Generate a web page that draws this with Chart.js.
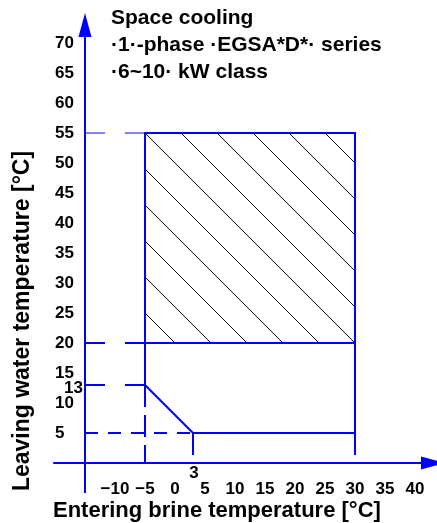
<!DOCTYPE html>
<html lang="en">
<head>
  <meta charset="UTF-8">
  <title>Space cooling - operation range</title>
  <script src="https://cdn.jsdelivr.net/npm/chart.js"></script>
  <style>
    body {
      margin: 0;
      background: #ffffff;
      overflow: hidden;
    }

    #wrap {
      width: 445px;
      height: 523px;
    }
  </style>
</head>
<body>

  <div id="wrap">
    <canvas id="rangeChart" width="445" height="523"></canvas>
  </div>

  <script>
    // operating envelope: entering brine temp (x) / leaving water temp (y)
    const envelopeX = [-5, -5, 30, 30, 3, -5];
    const envelopeY = [13, 55, 55, 5, 5, 13];

    // hatched band and the line that splits it from the lower part
    const bandX = [-5, 30];
    const bandTop = 55;
    const bandBottom = 20;

    // dashed guides to the axes
    const hGuideY = [55, 20, 13, 5];
    const hGuideEnd = [-5, -5, -5, 3];
    const vGuideX = [-5, 3, 30];
    const vGuideTop = [13, 5, 5];

    // tick labels
    const xTicks = [-10, -5, 0, 5, 10, 15, 20, 25, 30, 35, 40];
    const yTicks = [5, 10, 15, 20, 25, 30, 35, 40, 45, 50, 55, 60, 65, 70];
    const extraXLabels = [3];
    const extraYLabels = [13];

    const titleLines = ['Space cooling', '·1·-phase ·EGSA*D*· series', '·6~10· kW class'];
    const xTitle = 'Entering brine temperature [°C]';
    const yTitle = 'Leaving water temperature [°C]';

    const BLUE = '#0000ff';
    const FONT = "'Liberation Sans', Arial, sans-serif";

    // diagonal hatch tile
    const tile = document.createElement('canvas');
    tile.width = 36;
    tile.height = 36;
    const tctx = tile.getContext('2d');
    tctx.strokeStyle = '#111';
    tctx.lineWidth = 1;
    for (let k = -1; k <= 1; k++) {
      tctx.beginPath();
      tctx.moveTo(-2, k * 36 - 2);
      tctx.lineTo(38, 36 + k * 36 + 2);
      tctx.stroke();
    }
    const ctx = document.getElementById('rangeChart').getContext('2d');
    const hatch = ctx.createPattern(tile, 'repeat');

    const fmt = (v) => (v < 0 ? '\u2212' + Math.abs(v) : String(v));

    const datasets = [];

    datasets.push({
      data: envelopeX.map((x, i) => ({ x: x, y: envelopeY[i] })),
      borderColor: BLUE,
      borderWidth: 2,
      fill: false
    });

    datasets.push({
      data: bandX.map(x => ({ x: x, y: bandBottom })),
      borderColor: BLUE,
      borderWidth: 2,
      fill: false
    });

    hGuideY.forEach((y, i) => {
      datasets.push({
        data: [{ x: -15, y: y }, { x: hGuideEnd[i], y: y }],
        borderColor: i === 0 ? '#8080ff' : BLUE,
        borderWidth: 2,
        borderDash: y === 5 ? [13, 10] : [20, 20],
        fill: false
      });
    });

    vGuideX.forEach((x, i) => {
      datasets.push({
        data: [{ x: x, y: vGuideTop[i] }, { x: x, y: 0 }],
        borderColor: BLUE,
        borderWidth: 2,
        borderDash: [22, 8],
        fill: false
      });
    });

    // last in the list = drawn first, under the outlines
    datasets.push({
      data: bandX.map(x => ({ x: x, y: bandTop })),
      borderWidth: 0,
      backgroundColor: hatch,
      fill: { value: bandBottom }
    });

    const decorations = {
      id: 'decorations',
      beforeDatasetsDraw(chart) {
        const sx = chart.scales.x, sy = chart.scales.y;
        hatch.setTransform(new DOMMatrix([1, 0, 0, 1,
          sx.getPixelForValue(bandX[0]), sy.getPixelForValue(bandTop)]));
      },
      afterDatasetsDraw(chart) {
        const c = chart.ctx;
        const sx = chart.scales.x, sy = chart.scales.y;
        const x0 = sx.getPixelForValue(-15);
        const y0 = sy.getPixelForValue(0);

        c.save();
        // axes with arrow heads
        c.strokeStyle = BLUE;
        c.fillStyle = BLUE;
        c.lineWidth = 2;
        c.beginPath();
        c.moveTo(sx.getPixelForValue(-20.3), y0);
        c.lineTo(sx.getPixelForValue(45) - 20, y0);
        c.moveTo(x0, sy.getPixelForValue(-5));
        c.lineTo(x0, sy.getPixelForValue(75) + 20);
        c.stroke();

        const tipX = sx.getPixelForValue(45);
        c.beginPath();
        c.moveTo(tipX, y0);
        c.lineTo(tipX - 24, y0 - 6.5);
        c.lineTo(tipX - 24, y0 + 6.5);
        c.closePath();
        c.fill();

        const tipY = sy.getPixelForValue(75);
        c.beginPath();
        c.moveTo(x0, tipY);
        c.lineTo(x0 - 6.5, tipY + 24);
        c.lineTo(x0 + 6.5, tipY + 24);
        c.closePath();
        c.fill();

        // texts
        c.fillStyle = '#000';
        c.font = 'bold 17px ' + FONT;
        c.textBaseline = 'middle';
        c.textAlign = 'right';
        extraYLabels.forEach(v => c.fillText(String(v), x0 - 2, sy.getPixelForValue(v) + 3));
        c.textAlign = 'center';
        extraXLabels.forEach(v => c.fillText(String(v), sx.getPixelForValue(v) + 1, y0 + 10));

        c.textBaseline = 'alphabetic';
        c.textAlign = 'left';
        c.font = 'bold 21px ' + FONT;
        titleLines.forEach((t, i) => c.fillText(t, 111, 24 + i * 27));

        c.font = 'bold 22px ' + FONT;
        c.fillText(xTitle, 53, 517);

        c.font = 'bold 23px ' + FONT;
        c.translate(29, 321);
        c.rotate(-Math.PI / 2);
        c.textAlign = 'center';
        c.fillText(yTitle, 0, 0);
        c.restore();
      }
    };

    const tickFont = { family: FONT, size: 17, weight: 'bold' };

    new Chart(ctx, {
      type: 'scatter',
      data: { datasets: datasets },
      options: {
        responsive: false,
        animation: false,
        showLine: true,
        elements: { point: { radius: 0, hoverRadius: 0 }, line: { tension: 0 } },
        layout: { padding: { left: 55, top: 13, right: 0, bottom: 0 } },
        plugins: {
          legend: { display: false },
          tooltip: { enabled: false }
        },
        scales: {
          x: {
            type: 'linear',
            min: -15,
            max: 45,
            grid: { display: false },
            border: { display: false },
            afterBuildTicks: (s) => { s.ticks = xTicks.map(v => ({ value: v })); },
            afterFit: (s) => { s.height = 60; },
            ticks: {
              padding: 8,
              color: '#000',
              font: tickFont,
              autoSkip: false,
              maxRotation: 0,
              callback: (v) => fmt(v)
            }
          },
          y: {
            type: 'linear',
            min: 0,
            max: 75,
            grid: { display: false },
            border: { display: false },
            afterBuildTicks: (s) => { s.ticks = yTicks.map(v => ({ value: v })); },
            afterFit: (s) => { s.width = 30; },
            ticks: {
              padding: 0,
              crossAlign: 'far',
              color: '#000',
              font: tickFont,
              autoSkip: false,
              callback: (v) => fmt(v)
            }
          }
        }
      },
      plugins: [decorations]
    });
  </script>
</body>
</html>
